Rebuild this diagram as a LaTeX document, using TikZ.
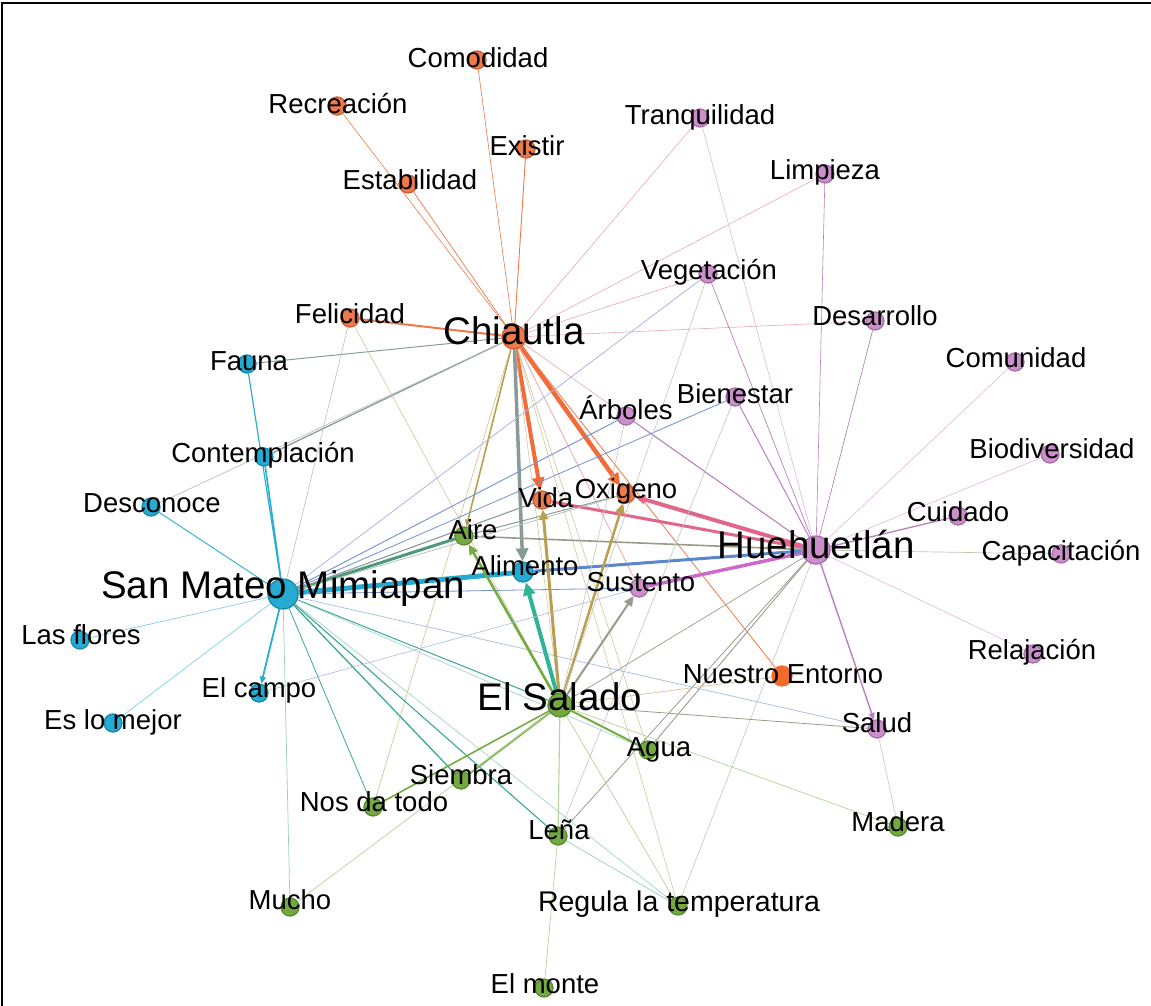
\documentclass[tikz,border=0pt]{standalone}
\usepackage{fontspec}
\setmainfont{Liberation Sans}
\usetikzlibrary{arrows.meta}
\pgfdeclarelayer{edges}
\pgfsetlayers{edges,main}
% node colours
\definecolor{fO}{HTML}{EE7A4C}\definecolor{rO}{HTML}{CC5E30}
\definecolor{fP}{HTML}{CC8FCC}\definecolor{rP}{HTML}{A870A8}
\definecolor{fB}{HTML}{25AAD2}\definecolor{rB}{HTML}{1688AE}
\definecolor{fG}{HTML}{73A842}\definecolor{rG}{HTML}{588C2E}
\definecolor{fE}{HTML}{F26A2E}
% edge colours
\definecolor{eO}{HTML}{F07848}\definecolor{eOt}{HTML}{F26B38}
\definecolor{eOPl}{HTML}{E8A8B0}
\definecolor{eOP}{HTML}{E2668A}
\definecolor{eOB}{HTML}{8A9A9A}\definecolor{eOBl}{HTML}{B8C0C0}
\definecolor{eOG}{HTML}{B8A050}\definecolor{eOGl}{HTML}{D2C49A}
\definecolor{eP}{HTML}{B880C0}\definecolor{ePl}{HTML}{DDB8DD}\definecolor{ePt}{HTML}{CC6ACC}
\definecolor{eB}{HTML}{2AAED0}\definecolor{eBP}{HTML}{7090D0}\definecolor{eBPl}{HTML}{A8B8E0}\definecolor{eBPt}{HTML}{5A86CC}
\definecolor{eBG}{HTML}{3AA894}\definecolor{eBGl}{HTML}{9ACFC0}\definecolor{eBGt}{HTML}{2EB596}\definecolor{eBGd}{HTML}{4E9A7C}
\definecolor{ePG}{HTML}{9A9A8A}\definecolor{ePGl}{HTML}{C4C4B8}
\definecolor{eG}{HTML}{74AC44}\definecolor{eGl}{HTML}{B4D49A}
\begin{document}
\begin{tikzpicture}[x=1pt,y=-1pt,
  gdot/.style n args={3}{circle,inner sep=0pt,minimum size=#1,fill=#2,draw=#3,line width=1.3pt},
  lab/.style={inner sep=0pt,font=\fontsize{27.5}{30}\selectfont,text height=19.5pt,text depth=0pt,text=black},
  biglab/.style={inner sep=0pt,font=\fontsize{38.5}{42}\selectfont,text height=27.5pt,text depth=0pt,text=black},
  ed/.style 2 args={draw=#1,line width=#2},
  tipL/.style={-{Triangle[length=13pt,width=12pt]}},
  tipM/.style={-{Triangle[length=10pt,width=9pt]}},
  tipS/.style={-{Triangle[length=7pt,width=6pt]}}]
\useasboundingbox (0,0) rectangle (1151,1006);
\draw[line width=1.2pt] (2,1006) -- (2,3) -- (1151,3);
% ---- dots
\node[gdot={24pt}{fO}{rO}] (ch) at (514,337) {};
\node[gdot={18pt}{fO}{rO}] (comodidad) at (477,60) {};
\node[gdot={18pt}{fO}{rO}] (recreacion) at (337,106) {};
\node[gdot={18pt}{fO}{rO}] (existir) at (526,149) {};
\node[gdot={18pt}{fO}{rO}] (estabilidad) at (408,184) {};
\node[gdot={18pt}{fO}{rO}] (felicidad) at (350,318) {};
\node[gdot={18pt}{fO}{rO}] (vida) at (542,500) {};
\node[gdot={18pt}{fO}{rO}] (oxigeno) at (626,494) {};
\node[gdot={20pt}{fE}{fE}] (entorno) at (782,676) {};
\node[gdot={28pt}{fP}{rP}] (hu) at (816,550) {};
\node[gdot={18pt}{fP}{rP}] (tranq) at (700,118) {};
\node[gdot={18pt}{fP}{rP}] (limpieza) at (825,174) {};
\node[gdot={18pt}{fP}{rP}] (veget) at (708,274) {};
\node[gdot={18pt}{fP}{rP}] (desarrollo) at (875,321) {};
\node[gdot={18pt}{fP}{rP}] (comunidad) at (1015,362) {};
\node[gdot={18pt}{fP}{rP}] (bienestar) at (735,397) {};
\node[gdot={18pt}{fP}{rP}] (arboles) at (626,416) {};
\node[gdot={18pt}{fP}{rP}] (biodiv) at (1050,454) {};
\node[gdot={18pt}{fP}{rP}] (cuidado) at (958,516) {};
\node[gdot={18pt}{fP}{rP}] (capac) at (1061,554) {};
\node[gdot={18pt}{fP}{rP}] (relaj) at (1033,654) {};
\node[gdot={18pt}{fP}{rP}] (salud) at (877,729) {};
\node[gdot={18pt}{fP}{rP}] (sustento) at (639,588) {};
\node[gdot={30pt}{fB}{rB}] (sm) at (283,594) {};
\node[gdot={18pt}{fB}{rB}] (fauna) at (247,364) {};
\node[gdot={18pt}{fB}{rB}] (contemp) at (264,457) {};
\node[gdot={18pt}{fB}{rB}] (descon) at (151,507) {};
\node[gdot={18pt}{fB}{rB}] (flores) at (80,640) {};
\node[gdot={18pt}{fB}{rB}] (mejor) at (113,723) {};
\node[gdot={18pt}{fB}{rB}] (campo) at (259,693) {};
\node[gdot={20pt}{fB}{rB}] (alimento) at (523,572) {};
\node[gdot={24pt}{fG}{rG}] (es) at (560,705) {};
\node[gdot={18pt}{fG}{rG}] (aire) at (464,536) {};
\node[gdot={18pt}{fG}{rG}] (siembra) at (461,780) {};
\node[gdot={18pt}{fG}{rG}] (nosda) at (373,807) {};
\node[gdot={18pt}{fG}{rG}] (agua) at (648,750) {};
\node[gdot={18pt}{fG}{rG}] (lena) at (558,836) {};
\node[gdot={18pt}{fG}{rG}] (madera) at (898,827) {};
\node[gdot={18pt}{fG}{rG}] (mucho) at (290,907) {};
\node[gdot={18pt}{fG}{rG}] (regula) at (678,906) {};
\node[gdot={18pt}{fG}{rG}] (monte) at (544,988) {};
% ---- labels
\node[biglab] (Lch) at (514,331) {Chiautla};
\node[lab] (Lcomodidad) at (478,58) {Comodidad};
\node[lab] (Lrecreacion) at (338,104) {Recreación};
\node[lab] (Lexistir) at (527,146) {Existir};
\node[lab] (Lestabilidad) at (410,180) {Estabilidad};
\node[lab] (Lfelicidad) at (350,314) {Felicidad};
\node[lab] (Lvida) at (546,498) {Vida};
\node[lab] (Loxigeno) at (626,489) {Oxigeno};
\node[lab] (Lentorno) at (783,674) {Nuestro Entorno};
\node[biglab] (Lhu) at (816,545) {Huehuetlán};
\node[lab] (Ltranq) at (700,115) {Tranquilidad};
\node[lab] (Llimpieza) at (825,170) {Limpieza};
\node[lab] (Lveget) at (709,270) {Vegetación};
\node[lab] (Ldesarrollo) at (875,316) {Desarrollo};
\node[lab] (Lcomunidad) at (1016,358) {Comunidad};
\node[lab] (Lbienestar) at (735,394) {Bienestar};
\node[lab] (Larboles) at (626,410) {Árboles};
\node[lab] (Lbiodiv) at (1052,449) {Biodiversidad};
\node[lab] (Lcuidado) at (958,512) {Cuidado};
\node[lab] (Lcapac) at (1061,551) {Capacitación};
\node[lab] (Lrelaj) at (1032,650) {Relajación};
\node[lab] (Lsalud) at (877,723) {Salud};
\node[lab] (Lsustento) at (641,582) {Sustento};
\node[biglab] (Lsm) at (283,585) {San Mateo Mimiapan};
\node[lab] (Lfauna) at (249,361) {Fauna};
\node[lab] (Lcontemp) at (263,453) {Contemplación};
\node[lab] (Ldescon) at (152,503) {Desconoce};
\node[lab] (Lflores) at (81,635) {Las flores};
\node[lab] (Lmejor) at (113,720) {Es lo mejor};
\node[lab] (Lcampo) at (259,688) {El campo};
\node[lab] (Lalimento) at (525,566) {Alimento};
\node[biglab] (Les) at (560,697) {El Salado};
\node[lab] (Laire) at (473,530) {Aire};
\node[lab] (Lsiembra) at (461,775) {Siembra};
\node[lab] (Lnosda) at (374,802) {Nos da todo};
\node[lab] (Lagua) at (659,747) {Agua};
\node[lab] (Llena) at (559,830) {Leña};
\node[lab] (Lmadera) at (898,822) {Madera};
\node[lab] (Lmucho) at (290,900) {Mucho};
\node[lab,font=\fontsize{28.5}{31}\selectfont] (Lregula) at (679,902) {Regula la temperatura};
\node[lab] (Lmonte) at (545,984) {El monte};
% ---- edges
\begin{pgfonlayer}{edges}
% Chiautla
\draw[ed={eO}{0.6}] (ch) -- (comodidad);
\draw[ed={eO}{0.6}] (ch) -- (recreacion);
\draw[ed={eO}{0.9}] (ch) -- (existir);
\draw[ed={eO}{0.7}] (ch) -- (estabilidad);
\draw[ed={eO}{2}] (ch) -- (felicidad);
\draw[ed={eOt}{4},tipL] (ch) -- (vida);
\draw[ed={eOt}{4.5},tipL] (ch) -- (oxigeno);
\draw[ed={eOG}{1.6},tipS] (ch) -- (aire);
\draw[ed={eOB}{3.5},tipL] (ch) -- (alimento);
\draw[ed={eOPl}{0.8}] (ch) -- (sustento);
\draw[ed={eOB}{1}] (ch) -- (fauna);
\draw[ed={eOB}{1.3}] (ch) -- (contemp);
\draw[ed={eOBl}{0.7}] (ch) -- (descon);
\draw[ed={eOGl}{0.7}] (ch) -- (nosda);
\draw[ed={eOPl}{0.6}] (ch) -- (tranq);
\draw[ed={eOPl}{0.6}] (ch) -- (veget);
\draw[ed={eOPl}{0.6}] (ch) -- (desarrollo);
\draw[ed={eOPl}{0.6}] (ch) -- (limpieza);
\draw[ed={eOPl}{0.6}] (ch) -- (hu);
\draw[ed={eO}{0.8}] (ch) -- (entorno);
\draw[ed={eOGl}{0.6}] (ch) -- (regula);
\draw[ed={eOGl}{0.6}] (ch) -- (agua);
\draw[ed={eOGl}{0.6}] (ch) -- (es);
\draw[ed={eOGl}{0.6}] (felicidad) -- (es);
\draw[ed={eOBl}{0.6}] (felicidad) -- (sm);
\draw[ed={eOB}{1}] (aire) -- (oxigeno);
% Huehuetlan
\draw[ed={ePl}{0.6}] (hu) -- (tranq);
\draw[ed={eP}{0.6}] (hu) -- (limpieza);
\draw[ed={eP}{0.7}] (hu) -- (veget);
\draw[ed={eP}{0.7}] (hu) -- (desarrollo);
\draw[ed={ePl}{0.6}] (hu) -- (comunidad);
\draw[ed={eP}{1}] (hu) -- (bienestar);
\draw[ed={eP}{1}] (hu) -- (arboles);
\draw[ed={ePl}{0.6}] (hu) -- (biodiv);
\draw[ed={eP}{1.3}] (hu) -- (cuidado);
\draw[ed={ePGl}{0.7}] (hu) -- (capac);
\draw[ed={ePl}{0.6}] (hu) -- (relaj);
\draw[ed={eP}{1.4},tipS] (hu) -- (salud);
\draw[ed={ePt}{3.5}] (hu) -- (sustento);
\draw[ed={eOP}{3}] (hu) -- (vida);
\draw[ed={eOP}{4},tipM] (hu) -- (oxigeno);
\draw[ed={eBPt}{3}] (hu) -- (alimento);
\draw[ed={ePG}{1.6}] (hu) -- (aire);
\draw[ed={ePG}{0.9}] (hu) -- (agua);
\draw[ed={ePG}{0.8}] (hu) -- (lena);
\draw[ed={ePGl}{0.6}] (hu) -- (regula);
\draw[ed={ePG}{0.7}] (hu) -- (es);
% San Mateo Mimiapan
\draw[ed={eB}{1.2}] (sm) -- (fauna);
\draw[ed={eB}{1.6}] (sm) -- (contemp);
\draw[ed={eB}{0.9}] (sm) -- (descon);
\draw[ed={eB!60}{0.7}] (sm) -- (flores);
\draw[ed={eB!60}{0.7}] (sm) -- (mejor);
\draw[ed={eB}{1.8},tipS] (sm) -- (campo);
\draw[ed={fB}{5}] (sm) -- (alimento);
\draw[ed={eBGd}{3}] (sm) -- (aire);
\draw[ed={eBGl}{0.7}] (sm) -- (mucho);
\draw[ed={eBG}{0.8}] (sm) -- (nosda);
\draw[ed={eBG}{1.3}] (sm) -- (siembra);
\draw[ed={eBG}{1.1}] (sm) -- (lena);
\draw[ed={eBG}{1}] (sm) -- (es);
\draw[ed={eBGl}{0.6}] (sm) -- (regula);
\draw[ed={eBGl}{0.6}] (sm) -- (agua);
\draw[ed={eBP}{0.8}] (sm) -- (sustento);
\draw[ed={eBPl}{0.7}] (sm) -- (salud);
\draw[ed={eOB}{1.1}] (sm) -- (vida);
\draw[ed={eOBl}{0.8}] (sm) -- (oxigeno);
\draw[ed={eBP}{0.9}] (sm) -- (arboles);
\draw[ed={eBP}{0.8}] (sm) -- (bienestar);
\draw[ed={eBPl}{0.8}] (sm) -- (veget);
% El Salado
\draw[ed={eG}{2.6},tipM] (es) -- (aire);
\draw[ed={eBGt}{4},tipL] (es) -- (alimento);
\draw[ed={eOG}{3},tipM] (es) -- (vida);
\draw[ed={eOG}{2.5},tipM] (es) -- (oxigeno);
\draw[ed={ePG}{2},tipM] (es) -- (sustento);
\draw[ed={eG}{2}] (es) -- (siembra);
\draw[ed={eG}{1.6}] (es) -- (nosda);
\draw[ed={eG}{2}] (es) -- (agua);
\draw[ed={eGl}{1.1}] (es) -- (lena);
\draw[ed={eGl}{0.7}] (es) -- (regula);
\draw[ed={eGl}{0.7}] (es) -- (madera);
\draw[ed={ePG}{0.8}] (es) -- (salud);
\draw[ed={eOGl}{0.7}] (es) -- (entorno);
\draw[ed={eGl}{0.7}] (es) -- (mucho);
\draw[ed={ePGl}{0.6}] (es) -- (arboles);
\draw[ed={ePGl}{0.6}] (es) -- (veget);
% others
\draw[ed={ePGl}{0.6}] (salud) -- (madera);
\draw[ed={eGl}{0.7}] (lena) -- (monte);
\draw[ed={eBGl}{0.7}] (lena) -- (regula);
\draw[ed={ePGl}{0.6}] (bienestar) -- (lena);
\draw[ed={eBPl}{0.6}] (campo) -- (sustento);
\end{pgfonlayer}
\end{tikzpicture}
\end{document}
